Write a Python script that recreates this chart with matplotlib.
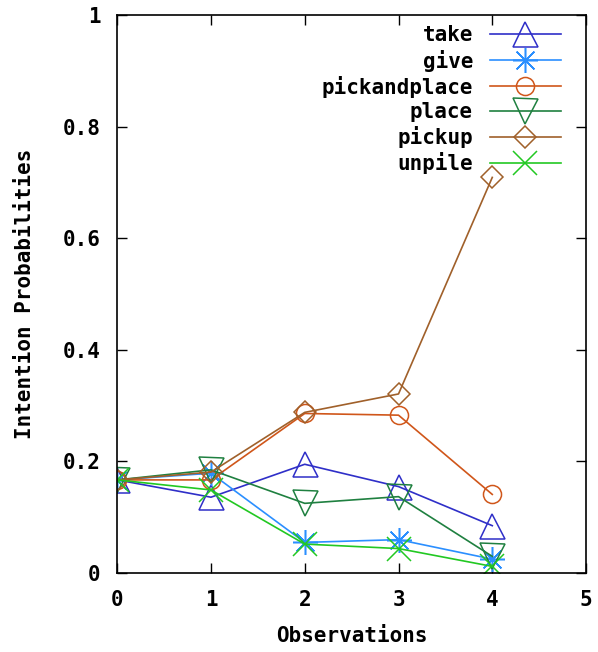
#!/usr/bin/env python3
"""
Intention probabilities per observation (gnuplot style)
"""
import matplotlib
matplotlib.use('Agg')
import matplotlib.pyplot as plt

# Dados
observations = [0, 1, 2, 3, 4]
take = [0.167, 0.136, 0.195, 0.155, 0.085]
give = [0.167, 0.179, 0.055, 0.060, 0.025]
pickandplace = [0.167, 0.167, 0.286, 0.283, 0.141]
place = [0.167, 0.185, 0.125, 0.137, 0.030]
pickup = [0.167, 0.181, 0.288, 0.321, 0.709]
unpile = [0.167, 0.149, 0.052, 0.044, 0.012]

x_ticks = [0, 1, 2, 3, 4, 5]
y_ticks = [0, 0.2, 0.4, 0.6, 0.8, 1.0]
y_ticklabels = ['0', '0.2', '0.4', '0.6', '0.8', '1']

plt.rcParams['font.family'] = ['DejaVu Sans Mono']
plt.rcParams['font.weight'] = 'bold'
FS = 15

fig = plt.figure(figsize=(5.98, 6.52), dpi=100)
ax = fig.add_axes([0.196, 0.121, 0.784, 0.856])

series = [
    ('take', take, '#2f2fc8', '^', 18),
    ('give', give, '#2b8fff', (8, 2, 0), 18),
    ('pickandplace', pickandplace, '#d0561a', 'o', 13),
    ('place', place, '#1f8040', 'v', 18),
    ('pickup', pickup, '#a0602a', 'D', 11),
    ('unpile', unpile, '#22c822', 'x', 17),
]

for name, values, color, marker, size in series:
    ax.plot(observations, values, color=color, linewidth=1.2,
            marker=marker, markersize=size, markerfacecolor='none',
            markeredgecolor=color, markeredgewidth=1.1, label=name)

ax.set_xlim(0, 5)
ax.set_ylim(0, 1)
ax.set_xticks(x_ticks)
ax.set_yticks(y_ticks)
ax.set_yticklabels(y_ticklabels)
ax.tick_params(direction='in', length=7, width=1.0, top=True, right=True,
               labelsize=FS)
ax.tick_params(axis='x', pad=12)
ax.tick_params(axis='y', pad=12)
for spine in ax.spines.values():
    spine.set_linewidth(1.2)

ax.set_xlabel('Observations', fontsize=FS, fontweight='bold', labelpad=12)
ax.set_ylabel('Intention Probabilities', fontsize=FS, fontweight='bold',
              labelpad=20)

ax.legend(loc='upper right', bbox_to_anchor=(0.968, 1.0), frameon=False,
          markerfirst=False, numpoints=1, handlelength=3.4,
          handletextpad=0.8, labelspacing=0.2, borderpad=0,
          fontsize=FS)

fig.savefig('out.png', dpi=100)
plt.close(fig)
